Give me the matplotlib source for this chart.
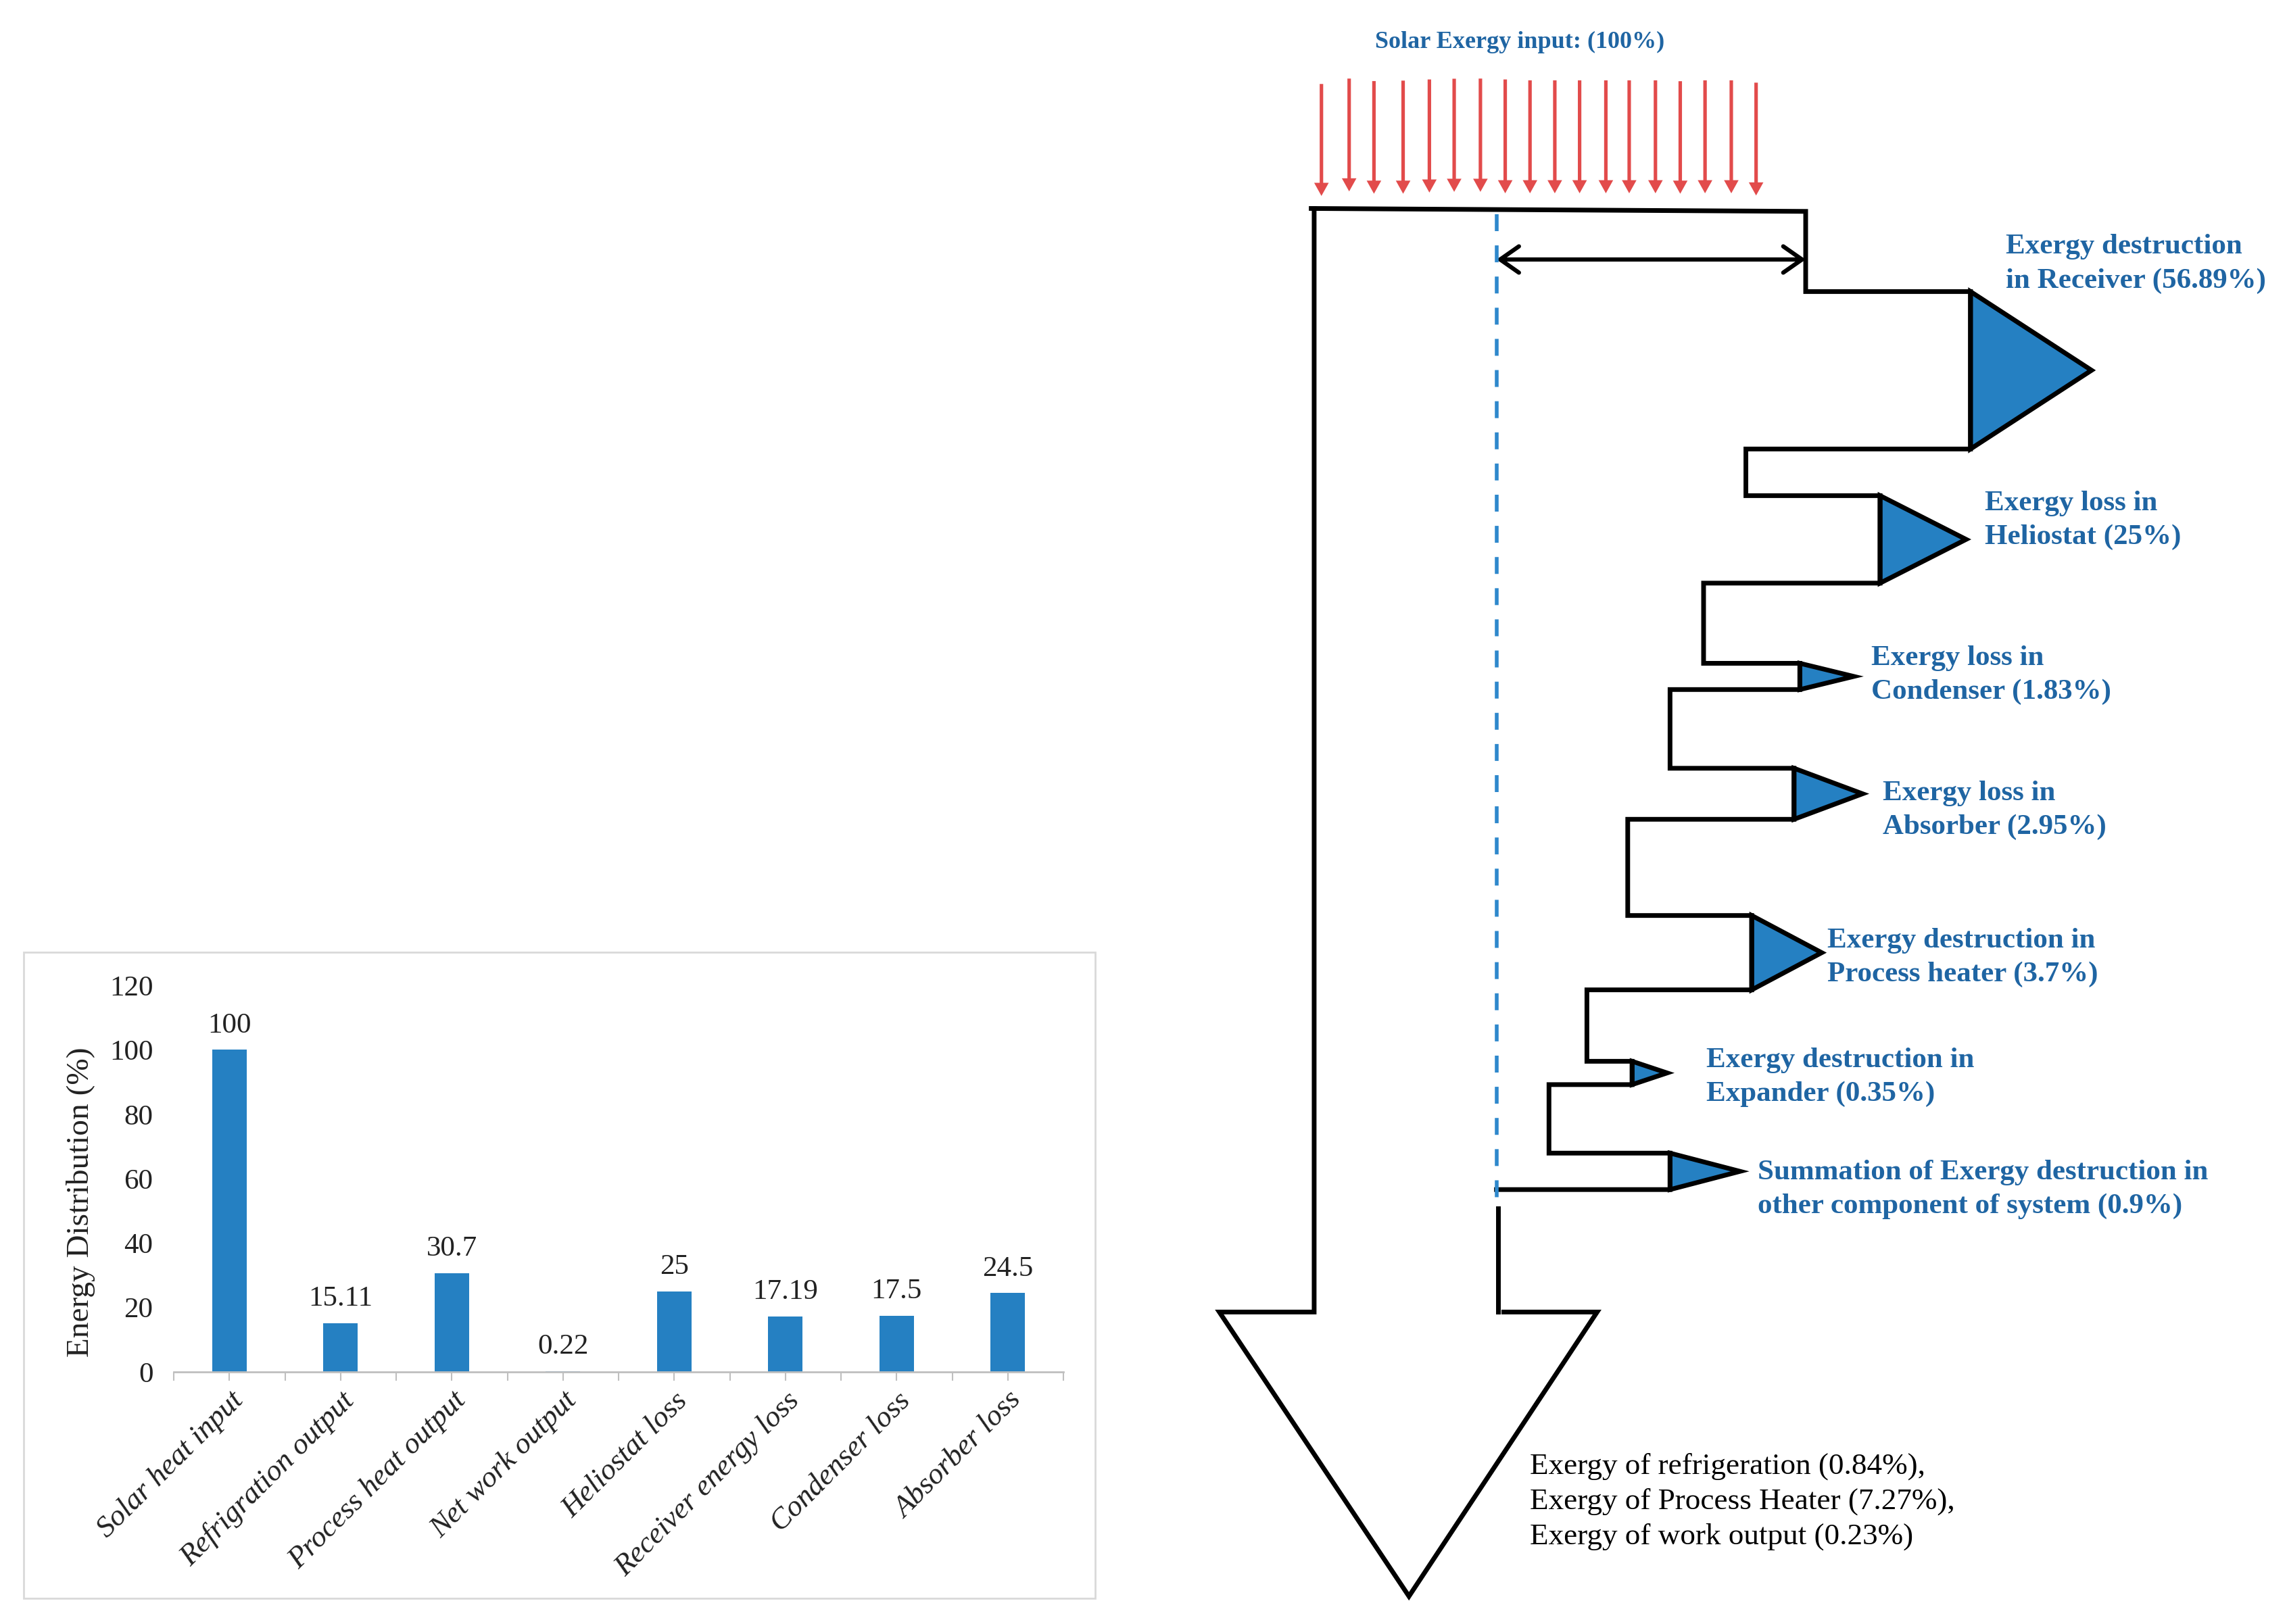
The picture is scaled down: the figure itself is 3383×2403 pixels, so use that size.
import matplotlib.pyplot as plt
from matplotlib.patches import Polygon, Rectangle, FancyArrowPatch
import numpy as np

plt.rcParams['font.family'] = ['Liberation Serif', 'DejaVu Serif']

# Bar chart data
categories = ['Solar heat input', 'Refrigration output', 'Process heat output',
              'Net work output', 'Heliostat loss', 'Receiver energy loss',
              'Condenser loss', 'Absorber loss']
values = [100, 15.11, 30.7, 0.22, 25, 17.19, 17.5, 24.5]
value_labels = ['100', '15.11', '30.7', '0.22', '25', '17.19', '17.5', '24.5']

# Exergy flow diagram texts
title_text = 'Solar Exergy input: (100%)'
loss_labels = ['Exergy destruction\nin Receiver (56.89%)',
               'Exergy loss in\nHeliostat (25%)',
               'Exergy loss in\nCondenser (1.83%)',
               'Exergy loss in\nAbsorber (2.95%)',
               'Exergy destruction in\nProcess heater (3.7%)',
               'Exergy destruction in\nExpander (0.35%)',
               'Summation of Exergy destruction in\nother component of system (0.9%)']
output_text = ('Exergy of refrigeration (0.84%),\n'
               'Exergy of Process Heater (7.27%),\n'
               'Exergy of work output (0.23%)')

# diagram layout (sheet units, y downwards)
tri_base_x = [1351, 1289, 1234, 1230, 1201, 1119, 1145]
tri_top = [200, 340, 455, 527, 628, 728, 791]
tri_bottom = [308, 400, 473, 562, 679, 744, 816]
tri_apex_x = [1434, 1348, 1271, 1277, 1249, 1143, 1193]
step_x = [1197, 1168, 1145, 1116, 1088, 1062, 1026]
label_x = [1375, 1361, 1283, 1291, 1253, 1170, 1205]
label_y = [181, 357, 463, 556, 657, 739, 816]

ray_x = [906, 925, 942, 962, 980, 997, 1015, 1032, 1049, 1066, 1083, 1101,
         1117, 1135, 1152, 1169, 1187, 1204]
ray_top = [57.6, 53.9, 55.6, 55.3, 54.5, 54.0, 53.9, 54.5, 55.1, 55.1, 55.1,
           55.1, 55.1, 55.1, 55.7, 55.1, 55.1, 56.7]
ray_tip = [134.4, 131.3, 132.9, 132.9, 132.1, 131.6, 131.6, 132.6, 132.6,
           132.6, 132.6, 132.6, 132.6, 132.6, 132.9, 132.6, 132.6, 134.1]

blue = '#2580C2'
text_blue = '#1F65A3'
red = '#E24B4B'
black_lw = 5

fig = plt.figure(figsize=(33.83, 24.03), dpi=100)

# ---------------- right: exergy flow diagram ----------------
ax = fig.add_axes([0, 0, 1, 1])
ax.set_xlim(0, 1568)
ax.set_ylim(1114, 0)
ax.axis('off')

for x, t0, t1 in zip(ray_x, ray_top, ray_tip):
    ax.arrow(x, t0, 0, t1 - t0, width=2.4, head_width=10, head_length=9,
             length_includes_head=True, color=red, lw=0)

ax.text(1042, 29, title_text, color=text_blue, fontsize=26, fontweight='bold',
        ha='center', va='center')

# outline of the flow
px = [899, 1238, 1238]
py = [143, 145, tri_top[0]]
for i in range(len(tri_base_x)):
    px += [tri_base_x[i], tri_base_x[i], step_x[i]]
    py += [tri_top[i], tri_bottom[i], tri_bottom[i]]
    if i < len(tri_base_x) - 1:
        px.append(step_x[i])
        py.append(tri_top[i + 1])
ax.plot(px, py, color='black', lw=black_lw, solid_joinstyle='miter')

for bx_, t, b, apx in zip(tri_base_x, tri_top, tri_bottom, tri_apex_x):
    ax.add_patch(Polygon([[bx_, t], [apx, (t + b) / 2], [bx_, b]], closed=True,
                         facecolor=blue, edgecolor='black', lw=black_lw,
                         joinstyle='miter'))

for x, y, s in zip(label_x, label_y, loss_labels):
    ax.text(x, y, s, color=text_blue, fontsize=31, fontweight='bold',
            ha='left', va='center', linespacing=1.4)

# left wall and big outlet arrow
ax.plot([901, 901, 836, 966, 1095, 1031], [143, 900, 900, 1095, 900, 900],
        color='black', lw=black_lw, solid_joinstyle='miter')
ax.plot([1027, 1027], [829, 900], color='black', lw=black_lw)
ax.plot([1026, 1026], [147, 829], color='#2E88CC', lw=4,
        linestyle=(0, (4.5, 3.8)))

ax.add_patch(FancyArrowPatch((1026, 178), (1238, 178),
                             arrowstyle='<->,head_length=0.5,head_width=0.35',
                             mutation_scale=40, color='black', lw=4.5,
                             shrinkA=0, shrinkB=0))

ax.text(1049, 1030, output_text, color='black', fontsize=32.5, ha='left',
        va='center', linespacing=1.38)

# ---------------- left: bar chart ----------------
fig.add_artist(Rectangle((0.0103, 0.0158), 0.4685, 0.3978, transform=fig.transFigure,
                         facecolor='white', edgecolor='#D9D9D9', lw=2, zorder=-5))

bx = fig.add_axes([0.076, 0.1552, 0.389, 0.238])
bx.patch.set_alpha(0)
pos = np.arange(len(categories))
bars = bx.bar(pos, values, width=0.31, color=blue)
for p, v, s in zip(pos, values, value_labels):
    bx.annotate(s, (p, v), xytext=(0, 12), textcoords='offset points',
                ha='center', va='bottom', fontsize=31, color='#222222')

bx.set_xlim(-0.5, len(categories) - 0.5)
bx.set_ylim(0, 120)
bx.set_yticks(np.arange(0, 121, 20))
bx.set_xticks(pos)
bx.set_xticks(np.arange(-0.5, len(categories)), minor=True)
bx.set_xticklabels(categories, rotation=45, ha='right', rotation_mode='anchor',
                   fontstyle='italic', fontsize=32, color='#222222')
for lab in bx.get_yticklabels():
    lab.set_fontsize(31)
    lab.set_color('#222222')
bx.tick_params(axis='y', length=0, pad=22)
bx.tick_params(axis='x', which='both', length=9, width=1.5, color='#BFBFBF', pad=7)
for side in ['top', 'right', 'left']:
    bx.spines[side].set_visible(False)
bx.spines['bottom'].set_color('#BFBFBF')
bx.spines['bottom'].set_linewidth(2)
bx.set_ylabel('Energy Distribution (%)', fontsize=34, color='#222222')
bx.yaxis.set_label_coords(-0.088, 0.44)

plt.savefig('out.png', dpi=100)
